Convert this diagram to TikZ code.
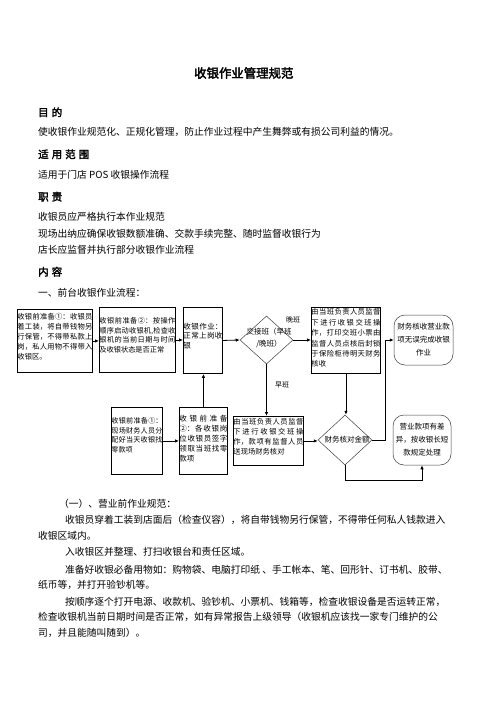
\documentclass[tikz,border=0pt]{standalone}
\usepackage{fontspec}
\setmainfont{Noto Sans CJK SC}
\newfontfamily\boldcjk[FakeBold=2.5]{Noto Sans CJK SC}
\usetikzlibrary{shapes.geometric,arrows.meta}
\XeTeXlinebreaklocale "zh"
\XeTeXlinebreakskip=0pt plus 2pt
\newcommand{\bxt}[6]{\parbox[c][#2][t]{#1}{\fontsize{#4}{#5}\selectfont\tolerance=9999\hbadness=10000\vspace*{#3}#6}}
\tikzset{
 txt/.style={anchor=west, inner sep=0pt, font=\fontsize{9.75}{12}\selectfont},
 hd/.style={anchor=west, inner sep=0pt, font=\boldcjk\fontsize{10.5}{12}\selectfont},
 procbox/.style={draw, line width=0.9pt, anchor=north west, inner sep=0pt},
 decis/.style={diamond, draw=black!75, line width=0.5pt, inner sep=0pt},
 termbox/.style={draw=black!75, line width=0.5pt, rounded corners=11pt, inner sep=0pt, align=center, font=\fontsize{7.5}{13}\selectfont},
 conn/.style={line width=0.8pt, -{Latex[length=4pt,width=3.5pt]}},
 lbl/.style={inner sep=0pt, font=\fontsize{7}{8}\selectfont},
 dlbl/.style={inner sep=0pt, align=center, font=\fontsize{7.5}{11.5}\selectfont},
}
\begin{document}
\begin{tikzpicture}[x=1pt,y=-1pt]
\fill[white] (0,0) rectangle (496,702);
\useasboundingbox (0,0) rectangle (496,702);

% title and top text
\node[inner sep=0pt, font=\boldcjk\fontsize{12.4}{14}\selectfont] (title) at (243.8,73) {收银作业管理规范};
\node[hd] (h1) at (38,112.3) {目\kern3pt 的};
\node[txt] (p1) at (38,132.3) {使收银作业规范化、正规化管理，防止作业过程中产生舞弊或有损公司利益的情况。};
\node[hd] (h2) at (38,154.3) {适\kern3pt 用\kern3pt 范\kern3pt 围};
\node[txt] (p2) at (38,175) {适用于门店 POS 收银操作流程};
\node[hd] (h3) at (38,196.7) {职\kern3pt 责};
\node[txt] (p3) at (38,216.7) {收银员应严格执行本作业规范};
\node[txt] (p4) at (38,233.3) {现场出纳应确保收银数额准确、交款手续完整、随时监督收银行为};
\node[txt] (p5) at (38,249.3) {店长应监督并执行部分收银作业流程};
\node[hd] (h4) at (38,271.7) {内\kern3pt 容};
\node[txt] (p6) at (38,292.7) {一、前台收银作业流程：};

% flowchart boxes
\node[procbox] (b1) at (17,309) {\bxt{75pt}{63pt}{3.4pt}{7.3}{10}{收银前准备①：收银员\linebreak 着工装，将自带钱物另\linebreak 行保管，不得带私款上\linebreak 岗，私人用物不得带入\linebreak 收银区。}};
\node[procbox] (b2) at (99,307) {\bxt{76pt}{65pt}{10.4pt}{7.2}{9.5}{收银前准备②：按操作\linebreak 顺序启动收银机,检查收\linebreak 银机的当前日期与时间\linebreak 及收银状态是否正常}};
\node[procbox] (b3) at (183,307) {\bxt{39pt}{66pt}{15.4pt}{7.5}{9.5}{收银作业：\linebreak 正常上岗收\linebreak 银}};
\node[decis, minimum width=53pt, minimum height=48pt] (d1) at (266.5,340) {};
\node[dlbl] (d1t) at (269,338) {交接班（早班\\/晚班）};
\node[procbox] (b4) at (311,307) {\bxt{69pt}{66pt}{1.4pt}{7.3}{10.4}{由当班负责人员监督\linebreak 下进行收银交班操\linebreak 作，打印交班小票由\linebreak 监督人员点核后封锁\linebreak 于保险柜待明天财务\linebreak 核收}};
\node[termbox, minimum width=59pt, minimum height=50pt] (b5) at (423.5,340) {财务核收营业款\\项无误完成收银\\作业};

\node[procbox] (b7) at (111,407) {\bxt{51pt}{67pt}{10.4pt}{7.1}{9.5}{收银前准备①：\linebreak 现场财务人员分\linebreak 配好当天收银找\linebreak 零款项}};
\node[procbox] (b8) at (179,407) {\bxt{48pt}{67pt}{7.4pt}{7.5}{10}{收银前准备\linebreak ②：各收银岗\linebreak 位收银员签字\linebreak 领取当班找零\linebreak 款项}};
\node[procbox] (b6) at (233,416) {\bxt{70pt}{49pt}{2.4pt}{7.3}{10}{由当班负责人员监督\linebreak 下进行收银交班操\linebreak 作，款项有监督人员\linebreak 送现场财务核对}};
\node[decis, minimum width=54pt, minimum height=50pt] (d2) at (345,440) {};
\node[dlbl] (d2t) at (347,440) {财务核对金额};
\node[termbox, minimum width=58pt, minimum height=50pt] (b9) at (422,440) {营业款项有差\\异，按收银长短\\款规定处理};

% labels
\node[lbl] (late) at (293,320) {晚班};
\node[lbl] (early) at (282,385) {早班};

% connectors
\draw[conn] (b1.east) -- (b1.east -| b2.west);
\draw[conn] (b2.east) -- (b2.east -| b3.west);
\draw[conn] (b3.east) -- (d1.west);
\draw[conn] (d1.east) -- (d1.east -| b4.west);
\draw[conn] (d1.south) -- (d1.south |- b6.north);
\draw[conn] (b7.east) -- (b7.east -| b8.west);
\draw[conn] (b8.north) -- (b8.north |- b3.south);
\draw[conn] (b6.east) -- (b6.east -| d2.west);
\draw[conn] (b4.south) -- (b4.south |- d2.north);
\coordinate (j1) at (385,440);
\draw[conn] (d2.east) -- (j1) |- (b5.west);
\coordinate (j2) at (345,480);
\draw[conn] (d2.south) -- (j2) -| (b9.south);

% lower text
\node[txt] (q1) at (59,503.3) {（一）、营业前作业规范：};
\node[txt] (q2) at (65,520) {收银员穿着工装到店面后（检查仪容），将自带钱物另行保管，不得带任何私人钱款进入};
\node[txt] (q3) at (38,535.7) {收银区域内。};
\node[txt] (q4) at (65,551.7) {入收银区并整理、打扫收银台和责任区域。};
\node[txt] (q5) at (65,569.3) {准备好收银必备用物如：购物袋、电脑打印纸 、手工帐本、笔、回形针、订书机、胶带、};
\node[txt] (q6) at (38,585) {纸币等，并打开验钞机等。};
\node[txt] (q7) at (65,601.7) {按顺序逐个打开电源、收款机、验钞机、小票机、钱箱等，检查收银设备是否运转正常，};
\node[txt] (q8) at (38,616.7) {检查收银机当前日期时间是否正常，如有异常报告上级领导（收银机应该找一家专门维护的公};
\node[txt] (q9) at (38,633.3) {司，并且能随叫随到）。};
\end{tikzpicture}
\end{document}
